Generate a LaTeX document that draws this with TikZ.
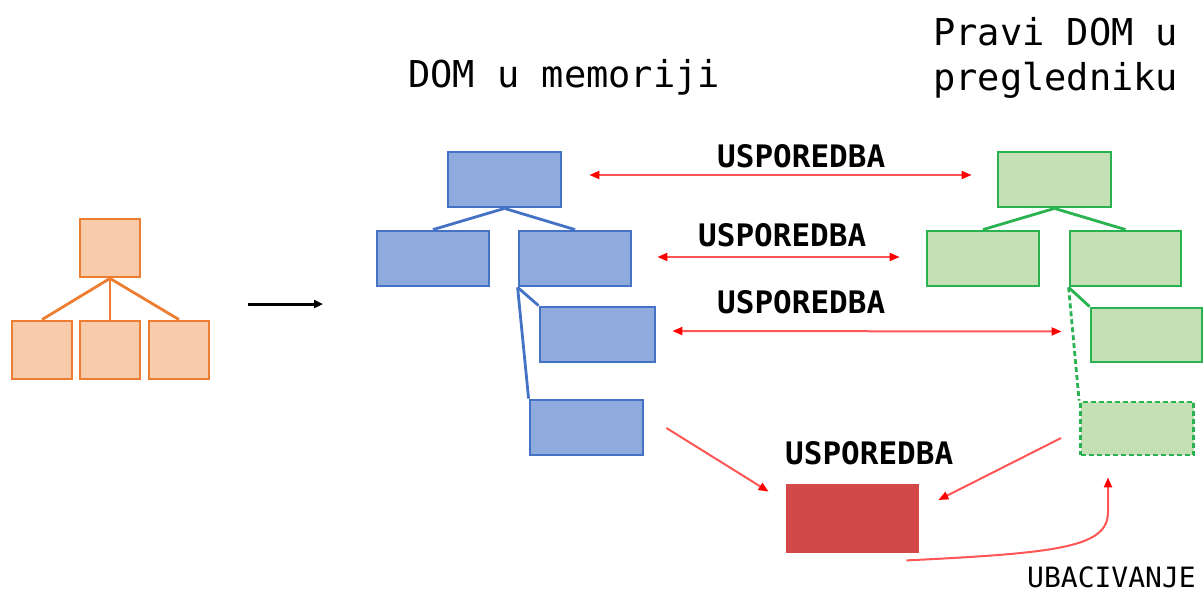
\documentclass[tikz,border=0pt]{standalone}
\usepackage{fontspec}
\setmonofont{DejaVu Sans Mono}
\usetikzlibrary{arrows.meta}
\definecolor{oline}{RGB}{237,125,49}
\definecolor{ofill}{RGB}{248,203,173}
\definecolor{bline}{RGB}{68,114,196}
\definecolor{bfill}{RGB}{143,170,220}
\definecolor{gline}{RGB}{40,178,80}
\definecolor{gfill}{RGB}{197,224,180}
\definecolor{rfill}{RGB}{211,73,73}
\definecolor{rline}{RGB}{255,85,85}
\begin{document}
\begin{tikzpicture}[x=1pt,y=-1pt,
    box/.style={draw,line width=2.8pt,inner sep=0pt},
    obox/.style={box,draw=oline,fill=ofill,minimum width=60pt,minimum height=58pt},
    bbox/.style={box,draw=bline,fill=bfill,minimum width=113pt,minimum height=55pt},
    gbox/.style={box,draw=gline,fill=gfill,minimum width=113pt,minimum height=55pt},
    cmp/.style={draw=rline,line width=2pt,>={Triangle[length=10pt,width=8pt,color=red]}},
    lbl/.style={font=\ttfamily\bfseries\fontsize{31}{31}\selectfont,anchor=base west,inner sep=0pt},
    ttl/.style={font=\ttfamily\fontsize{37}{37}\selectfont,anchor=base west,inner sep=0pt}]
  \useasboundingbox (0,0) rectangle (1203,592);
  % virtualni DOM (narancasto)
  \node[obox] at (110,248) (o0) {};
  \foreach \n/\x in {1/42,2/110,3/179}{
      \node[obox] at (\x,350) (o\n) {};
      \draw[oline,line width=2.8pt] (o0.south)--(o\n.north);
  }
  \coordinate (a1) at (248,304);
  \coordinate (a2) at (323,304);
  \draw[line width=3pt,-{Triangle[length=9pt,width=8pt]}] (a1)--(a2);
  % DOM u memoriji
  \node[ttl] at (408,87) (tm) {DOM u memoriji};
  \node[bbox] at (504.5,179.5) (b0) {};
  \node[bbox,minimum width=112pt] at (433,258.5) (b1) {};
  \node[bbox,minimum width=112pt] at (575,258.5) (b2) {};
  \node[bbox,minimum width=115pt] at (597.5,334.5) (b3) {};
  \node[bbox] at (586.5,427.5) (b4) {};
  \draw[bline,line width=2.8pt] (b0.south)--(b1.north);
  \draw[bline,line width=2.8pt] (b0.south)--(b2.north);
  \draw[bline,line width=2.8pt] (b2.south west)--(b3.north west);
  \draw[bline,line width=2.8pt] (b2.south west)--(b4.north west);
  % pravi DOM
  \node[ttl] at (933,45) (tp1) {Pravi DOM u};
  \node[ttl] at (933,90) (tp2) {pregledniku};
  \node[gbox] at (1054.5,179.5) (g0) {};
  \node[gbox,minimum width=112pt] at (983,258.5) (g1) {};
  \node[gbox,minimum width=111pt] at (1125.5,258.5) (g2) {};
  \node[gbox,minimum width=111pt,minimum height=54pt] at (1146.5,335) (g3) {};
  \node[gbox,dash pattern=on 5pt off 3pt,minimum height=53pt] at (1137,428.5) (g4) {};
  \draw[gline,line width=2.8pt] (g0.south)--(g1.north);
  \draw[gline,line width=2.8pt] (g0.south)--(g2.north);
  \draw[gline,line width=2.8pt] (g2.south west)--(g3.north west);
  \draw[gline,line width=2.8pt,dash pattern=on 5pt off 3pt] (g2.south west)--(g4.north west);
  % usporedbe
  \draw[cmp,<->,shorten <=27pt,shorten >=25pt] ([yshift=4.5pt]b0.east)--([yshift=4.5pt]g0.west);
  \draw[cmp,<->,shorten <=25pt,shorten >=26pt] ([yshift=1.5pt]b2.east)--([yshift=1.5pt]g1.west);
  \draw[cmp,<->,shorten <=16pt,shorten >=28pt] ([yshift=3.5pt]b3.east)--([yshift=3.5pt]g3.west);
  \node[lbl] at (717,167) (u1) {USPOREDBA};
  \node[lbl] at (698,246) (u2) {USPOREDBA};
  \node[lbl] at (717,313) (u3) {USPOREDBA};
  % promjena
  \node[box,draw=none,fill=rfill,minimum width=133pt,minimum height=69pt] at (852.5,518.5) (r) {};
  \node[lbl] at (785,464) (u4) {USPOREDBA};
  \draw[cmp,->] ([xshift=22pt,yshift=-0.5pt]b4.east)--([xshift=-16pt,yshift=-9pt]r.north west);
  \draw[cmp,->] ([xshift=-18pt,yshift=-9.5pt]g4.west)--([xshift=18pt,yshift=18.5pt]r.east);
  \draw[cmp,->] ([xshift=-14pt,yshift=-6pt]r.south east) .. controls (1060,553) and (1108,547) .. (1108,512)
      --([xshift=-29pt,yshift=-21pt]g4.south);
  \node[lbl,font=\ttfamily\fontsize{28}{28}\selectfont] at (1027,587) (ub) {UBACIVANJE};
\end{tikzpicture}
\end{document}
